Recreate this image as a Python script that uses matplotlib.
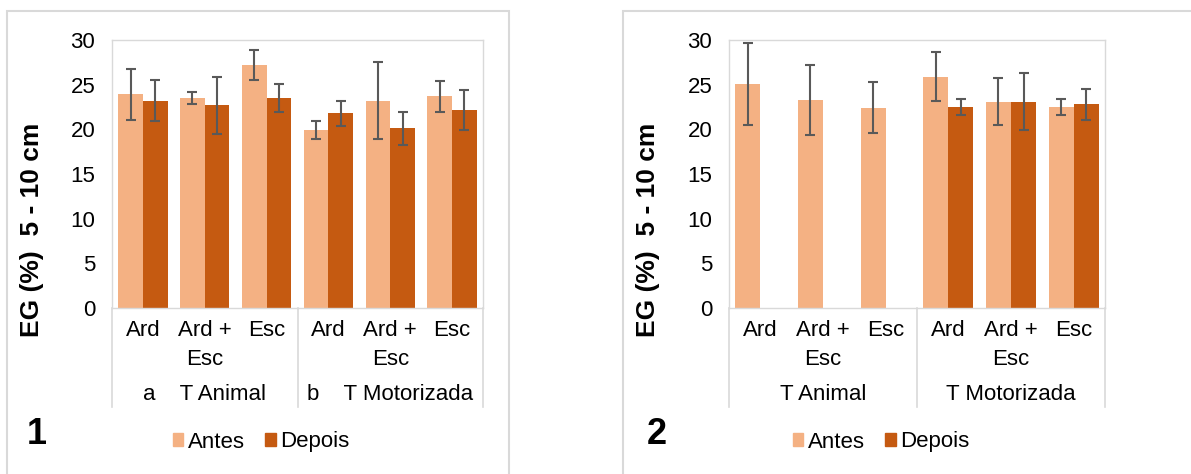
import numpy as np
import matplotlib.pyplot as plt
from matplotlib.patches import Rectangle, Patch

plt.rcParams['font.family'] = ['Liberation Sans', 'DejaVu Sans']

W, H = 1191, 474

categories = ['Ard', 'Ard +\nEsc', 'Esc', 'Ard', 'Ard +\nEsc', 'Esc']

# panel 1
antes_1 = [23.9, 23.5, 27.2, 19.9, 23.2, 23.7]
antes_1_err = [2.85, 0.7, 1.65, 1.0, 4.3, 1.75]
depois_1 = [23.2, 22.7, 23.5, 21.8, 20.1, 22.2]
depois_1_err = [2.3, 3.2, 1.6, 1.4, 1.8, 2.25]
groups_1 = ['a    T Animal', 'b    T Motorizada']

# panel 2 (no "Depois" for T Animal)
antes_2 = [25.1, 23.3, 22.4, 25.9, 23.1, 22.5]
antes_2_err = [4.6, 3.9, 2.85, 2.75, 2.6, 0.9]
depois_2 = [np.nan, np.nan, np.nan, 22.5, 23.1, 22.8]
depois_2_err = [np.nan, np.nan, np.nan, 0.95, 3.2, 1.75]
groups_2 = ['T Animal', 'T Motorizada']

C_ANTES = '#F4B183'
C_DEPOIS = '#C55A11'
C_ERR = '#595959'
C_GRID = '#D9D9D9'
FS = 16


def px_box(left, top, right, bottom):
    return [left / W, 1 - bottom / H, (right - left) / W, (bottom - top) / H]


def panel(fig, box, antes, antes_err, depois, depois_err, groups, ylab_x, num, num_x, leg_x):
    ax = fig.add_axes(px_box(*box))
    x = np.arange(len(categories))
    w = 0.4
    ax.bar(x - w / 2, antes, w, color=C_ANTES)
    ax.bar(x + w / 2, depois, w, color=C_DEPOIS)
    ax.errorbar(x - w / 2, antes, yerr=antes_err, fmt='none', ecolor=C_ERR,
                elinewidth=1.5, capsize=3.5, capthick=1.5)
    ax.errorbar(x + w / 2, depois, yerr=depois_err, fmt='none', ecolor=C_ERR,
                elinewidth=1.5, capsize=3.5, capthick=1.5)
    ax.set_xlim(-0.5, 5.5)
    ax.set_ylim(0, 30)
    ax.set_yticks(range(0, 31, 5))
    ax.set_xticks(x)
    ax.set_xticklabels(categories, fontsize=FS, linespacing=1.45)
    ax.tick_params(axis='y', length=0, pad=12, labelsize=FS)
    ax.tick_params(axis='x', length=0, pad=9)
    for s in ax.spines.values():
        s.set_color(C_GRID)
        s.set_linewidth(1)

    # category axis separators and group labels
    h = box[3] - box[1]
    depth = (407 - box[3]) / h
    for xs in (0, 0.5, 1):
        ax.plot([xs, xs], [0, -depth], transform=ax.transAxes, color=C_GRID,
                lw=1.2, clip_on=False)
    gy = -(394 - box[3]) / h
    for i, g in enumerate(groups):
        ax.text(0.25 + 0.5 * i, gy, g, transform=ax.transAxes, ha='center',
                va='center', fontsize=FS)

    fig.text(ylab_x / W, 1 - 230 / H, 'EG (%)  5 - 10 cm', rotation=90,
             ha='center', va='center', fontsize=19, fontweight='bold')
    fig.text(num_x / W, 1 - 435 / H, num, ha='center', va='center',
             fontsize=26, fontweight='bold')
    handles = [Patch(color=C_ANTES), Patch(color=C_DEPOIS)]
    fig.legend(handles, ['Antes', 'Depois'], loc='center',
               bbox_to_anchor=(leg_x / W, 1 - 442 / H), ncol=2, frameon=False,
               fontsize=FS, handlelength=0.48, handleheight=0.48,
               handletextpad=0.2, columnspacing=0.9)
    return ax


fig = plt.figure(figsize=(W / 100, H / 100), dpi=100)

# outer chart frames
fig.patches.append(Rectangle((7 / W, -0.05), (509 - 7) / W, 1.05 - 11 / H,
                             transform=fig.transFigure, fill=False,
                             edgecolor=C_GRID, lw=1.5))
fig.patches.append(Rectangle((623 / W, -0.05), 0.6, 1.05 - 11 / H,
                             transform=fig.transFigure, fill=False,
                             edgecolor=C_GRID, lw=1.5))

panel(fig, (112, 40, 483, 308), antes_1, antes_1_err, depois_1, depois_1_err,
      groups_1, 32, '1', 37, 261)
panel(fig, (729, 40, 1105, 308), antes_2, antes_2_err, depois_2, depois_2_err,
      groups_2, 648, '2', 657, 881)

fig.savefig('out.png', dpi=100)
